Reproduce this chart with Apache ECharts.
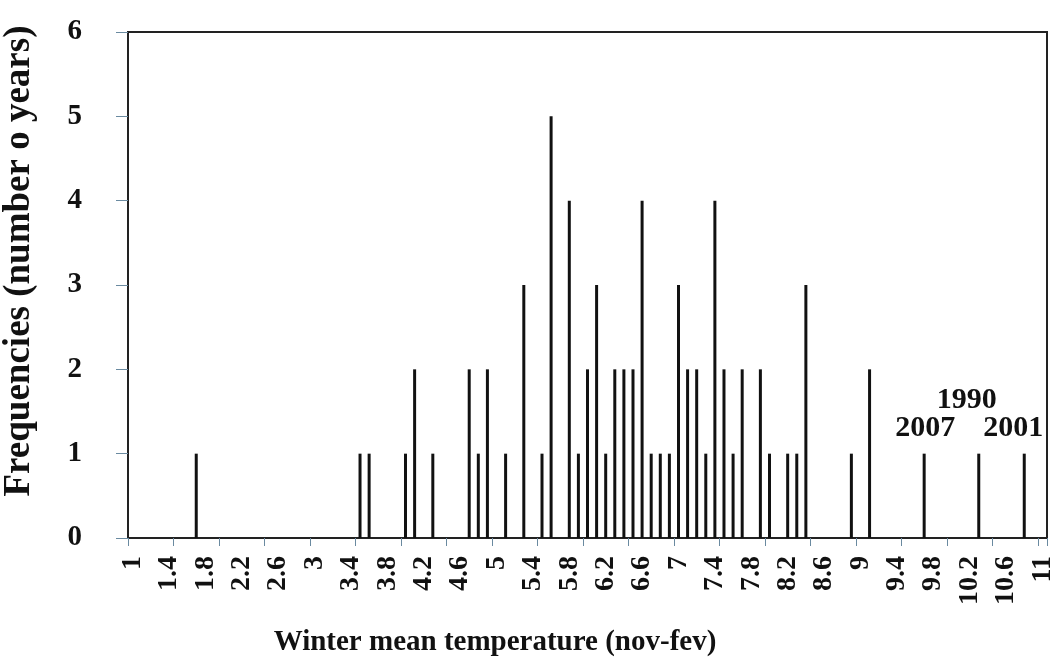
<!DOCTYPE html>
<html>
<head>
<meta charset="utf-8">
<script src="https://cdn.jsdelivr.net/npm/echarts@6/dist/echarts.min.js"></script>
<style>
html,body{margin:0;padding:0;background:#fff;}
#chart{width:1057px;height:662px;}
</style>
</head>
<body>
<div id="chart"></div>
<script>
// Category axis: winter mean temperature in 0.1 steps
const categories = [
  1, 1.1, 1.2, 1.3, 1.4, 1.5, 1.6, 1.7, 1.8, 1.9,
  2, 2.1, 2.2, 2.3, 2.4, 2.5, 2.6, 2.7, 2.8, 2.9,
  3, 3.1, 3.2, 3.3, 3.4, 3.5, 3.6, 3.7, 3.8, 3.9,
  4, 4.1, 4.2, 4.3, 4.4, 4.5, 4.6, 4.7, 4.8, 4.9,
  5, 5.1, 5.2, 5.3, 5.4, 5.5, 5.6, 5.7, 5.8, 5.9,
  6, 6.1, 6.2, 6.3, 6.4, 6.5, 6.6, 6.7, 6.8, 6.9,
  7, 7.1, 7.2, 7.3, 7.4, 7.5, 7.6, 7.7, 7.8, 7.9,
  8, 8.1, 8.2, 8.3, 8.4, 8.5, 8.6, 8.7, 8.8, 8.9,
  9, 9.1, 9.2, 9.3, 9.4, 9.5, 9.6, 9.7, 9.8, 9.9,
  10, 10.1, 10.2, 10.3, 10.4, 10.5, 10.6, 10.7, 10.8, 10.9,
  11
];

// Observed temperatures and their frequencies (number of years)
const temps = [
  1.7, 3.5, 3.6, 4.0, 4.1, 4.3, 4.7, 4.8, 4.9, 5.1,
  5.3, 5.5, 5.6, 5.8, 5.9, 6.0, 6.1, 6.2, 6.3, 6.4,
  6.5, 6.6, 6.7, 6.8, 6.9, 7.0, 7.1, 7.2, 7.3, 7.4,
  7.5, 7.6, 7.7, 7.9, 8.0, 8.2, 8.3, 8.4, 8.9, 9.1,
  9.7, 10.3, 10.8
];
const freqs = [
  1, 1, 1, 1, 2, 1, 2, 1, 2, 1,
  3, 1, 5, 4, 1, 2, 3, 1, 2, 2,
  2, 4, 1, 1, 1, 3, 2, 2, 1, 4,
  2, 1, 2, 2, 1, 1, 1, 3, 1, 2,
  1, 1, 1
];

// Y axis ticks
const yTicks = [0, 1, 2, 3, 4, 5, 6];

// Annotated years
const annotatedTemps = [9.7, 10.3, 10.8];
const annotatedYears = ['2007', '1990', '2001'];

// label placement style per annotated year (presentation only)
const annotationStyle = {
  '2007': { distance: 10, offset: [1, 0] },
  '1990': { distance: 38, offset: [-12, 0] },
  '2001': { distance: 10, offset: [-11, 0] }
};

const FONT = '"Liberation Serif", "Times New Roman", serif';

const seriesData = categories.map(function (c) {
  const i = temps.indexOf(c);
  if (i < 0) return '-';
  const a = annotatedTemps.indexOf(c);
  if (a < 0) return freqs[i];
  const year = annotatedYears[a];
  const st = annotationStyle[year];
  return {
    value: freqs[i],
    label: {
      show: true,
      position: 'top',
      distance: st.distance,
      offset: st.offset,
      formatter: year,
      color: '#111',
      fontFamily: FONT,
      fontWeight: 'bold',
      fontSize: 30
    }
  };
});

const chart = echarts.init(document.getElementById('chart'), null, { renderer: 'canvas' });

chart.setOption({
  animation: false,
  backgroundColor: '#ffffff',
  grid: {
    left: 128,
    right: 10,
    top: 32,
    bottom: 124,
    show: true,
    borderColor: '#222',
    borderWidth: 2,
    backgroundColor: '#ffffff',
    containLabel: false,
    outerBoundsMode: 'none'
  },
  xAxis: {
    type: 'category',
    data: categories,
    boundaryGap: true,
    name: 'Winter mean temperature (nov-fev)',
    nameLocation: 'middle',
    nameGap: 90,
    nameTextStyle: {
      fontFamily: FONT,
      fontWeight: 'bold',
      fontSize: 29,
      color: '#111',
      padding: [0, 185, 0, 0]
    },
    axisLine: { show: true, lineStyle: { color: '#222', width: 2 } },
    axisTick: {
      show: true,
      interval: 4,
      alignWithLabel: false,
      length: 8,
      lineStyle: { color: '#6a8aa0', width: 1 }
    },
    axisLabel: {
      interval: 3,
      rotate: 90,
      margin: 18,
      fontFamily: FONT,
      fontWeight: 'bold',
      fontSize: 28,
      color: '#111'
    },
    splitLine: { show: false }
  },
  yAxis: {
    type: 'value',
    min: yTicks[0],
    max: yTicks[yTicks.length - 1],
    interval: 1,
    name: 'Frequencies (number o years)',
    nameLocation: 'middle',
    nameGap: 90,
    nameRotate: 90,
    nameTextStyle: {
      fontFamily: FONT,
      fontWeight: 'bold',
      fontSize: 37,
      color: '#111',
      padding: [0, 0, 0, 48]
    },
    axisLine: { show: true, lineStyle: { color: '#222', width: 2 } },
    axisTick: { show: true, length: 12, lineStyle: { color: '#6a8aa0', width: 1 } },
    axisLabel: {
      margin: 46,
      fontFamily: FONT,
      fontWeight: 'bold',
      fontSize: 29,
      color: '#111'
    },
    splitLine: { show: false }
  },
  series: [{
    type: 'bar',
    data: seriesData,
    barWidth: 3,
    itemStyle: { color: '#111' },
    emphasis: { disabled: true }
  }]
});
</script>
</body>
</html>
